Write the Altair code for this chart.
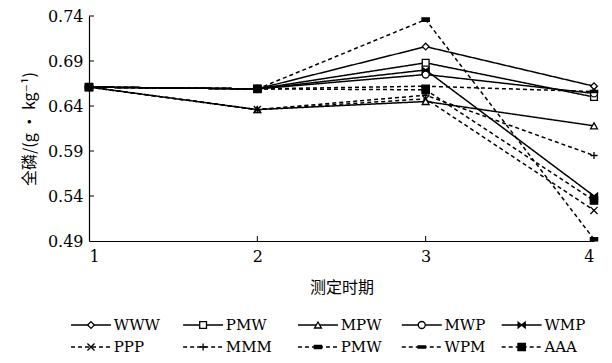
import altair as alt
import pandas as pd

periods = [1, 2, 3, 4]
series_ids = ["s1", "s2", "s3", "s4", "s5", "s6", "s7", "s8", "s9", "s10"]
series_labels = ["WWW", "PMW", "MPW", "MWP", "WMP", "PPP", "MMM", "PMW", "WPM", "AAA"]

v_www = [0.661, 0.659, 0.706, 0.662]
v_pmw = [0.661, 0.659, 0.688, 0.650]
v_mpw = [0.661, 0.636, 0.645, 0.618]
v_mwp = [0.661, 0.659, 0.675, 0.654]
v_wmp = [0.661, 0.659, 0.680, 0.540]
v_ppp = [0.661, 0.636, 0.648, 0.524]
v_mmm = [0.661, 0.636, 0.652, 0.585]
v_pmw2 = [0.661, 0.659, 0.736, 0.492]
v_wpm = [0.661, 0.659, 0.662, 0.656]
v_aaa = [0.661, 0.659, 0.658, 0.535]
all_values = [v_www, v_pmw, v_mpw, v_mwp, v_wmp, v_ppp, v_mmm, v_pmw2, v_wpm, v_aaa]

y_ticks = [0.49, 0.54, 0.59, 0.64, 0.69, 0.74]
inner_y_ticks = [0.54, 0.59, 0.64, 0.69, 0.74]
inner_x_ticks = [2, 3]

# legend grid: column slot and row of each entry
legend_cols = [0, 1, 2, 3, 4, 0, 1, 2, 3, 4]
legend_rows = [0, 0, 0, 0, 0, 1, 1, 1, 1, 1]
legend_slot_pos = [0.0, 1.01, 2.045, 2.98, 3.88]   # layout of the five legend columns

FONT = "DejaVu Serif, 'Noto Sans CJK SC'"
CJK = "'Noto Sans CJK SC', DejaVu Serif"

W, H = 505, 225

dashes = [[1, 0]] * 5 + [[4, 3]] * 5
shapes = [
    "diamond", "square", "triangle-up", "circle",
    "M-1,-0.8L1,0.8L1,-0.8L-1,0.8Z",
    "M-1,-1L1,1M1,-1L-1,1",
    "M-1,0L1,0M0,-1L0,1",
    "M-1,-0.45L1,-0.45L1,0.45L-1,0.45Z",
    "M-1,-0.3L1,-0.3L1,0.3L-1,0.3Z",
    "square",
]
fills = ["white", "white", "white", "white", "black", "black", "black", "black", "black", "black"]
sizes = [45, 55, 55, 55, 45, 55, 55, 40, 90, 130]

rows = []
for sid, lab, vals in zip(series_ids, series_labels, all_values):
    for p, v in zip(periods, vals):
        rows.append({"sid": sid, "label": lab, "period": p, "value": v})
df = pd.DataFrame(rows)

dash_scale = alt.Scale(domain=series_ids, range=dashes)
shape_scale = alt.Scale(domain=series_ids, range=shapes)
fill_scale = alt.Scale(domain=series_ids, range=fills)
size_scale = alt.Scale(domain=series_ids, range=sizes)

xs = alt.Scale(domain=[1, 4], nice=False, zero=False)
ys = alt.Scale(domain=[0.49, 0.74], nice=False, zero=False)

x_enc = alt.X("period:Q", scale=xs, axis=alt.Axis(
    values=periods, format="d", title="测定时期", grid=False, ticks=False,
    labelFont=FONT, labelFontSize=16, labelColor="black", labelPadding=7,
    titleFont=CJK, titleFontSize=16, titleFontWeight="normal", titleColor="black",
    titlePadding=15, domainColor="black", domainWidth=1.2))
y_enc = alt.Y("value:Q", scale=ys, axis=alt.Axis(
    values=y_ticks, format=".2f", title="全磷/(g • kg⁻¹)", grid=False, ticks=False,
    labelFont=FONT, labelFontSize=16, labelColor="black", labelPadding=6,
    titleFont=CJK, titleFontSize=16, titleFontWeight="normal", titleColor="black",
    titlePadding=10, domainColor="black", domainWidth=1.2))

lines = alt.Chart(df).mark_line(color="black", strokeWidth=1.5).encode(
    x=x_enc, y=y_enc, detail="sid:N",
    strokeDash=alt.StrokeDash("sid:N", scale=dash_scale, legend=None),
)
points = alt.Chart(df).mark_point(filled=True, stroke="black", strokeWidth=1.3, opacity=1).encode(
    x=alt.X("period:Q", scale=xs), y=alt.Y("value:Q", scale=ys),
    shape=alt.Shape("sid:N", scale=shape_scale, legend=None),
    fill=alt.Fill("sid:N", scale=fill_scale, legend=None),
    size=alt.Size("sid:N", scale=size_scale, legend=None),
)
ytick_df = pd.DataFrame({"v": inner_y_ticks})
ytick = alt.Chart(ytick_df).mark_rule(color="black", strokeWidth=1).encode(
    y=alt.Y("v:Q", scale=ys), x=alt.value(0), x2=alt.value(5))
xtick_df = pd.DataFrame({"p": inner_x_ticks})
xtick = alt.Chart(xtick_df).mark_rule(color="black", strokeWidth=1).encode(
    x=alt.X("p:Q", scale=xs), y=alt.value(H), y2=alt.value(H - 5))

main = alt.layer(lines, ytick, xtick, points)

# legend, drawn below the plot with its own position scales
leg = pd.DataFrame({"sid": series_ids, "label": series_labels,
                    "col": [legend_slot_pos[c] for c in legend_cols], "row": legend_rows})
leg["x0"] = leg["col"]
leg["x1"] = leg["col"] + 0.36
leg["xm"] = leg["col"] + 0.18
leg["xt"] = leg["col"] + 0.385
lxs = alt.Scale(domain=[0, 1], range=[-18, 93], nice=False, zero=False)
lys = alt.Scale(domain=[0, 1], range=[309, 331], nice=False, zero=False)

lrule = alt.Chart(leg).mark_rule(color="black", strokeWidth=1.5).encode(
    x=alt.X("x0:Q", scale=lxs, axis=None), x2="x1:Q",
    y=alt.Y("row:Q", scale=lys, axis=None),
    strokeDash=alt.StrokeDash("sid:N", scale=dash_scale, legend=None),
)
lpoint = alt.Chart(leg).mark_point(filled=True, stroke="black", strokeWidth=1.3, opacity=1).encode(
    x=alt.X("xm:Q", scale=lxs, axis=None), y=alt.Y("row:Q", scale=lys, axis=None),
    shape=alt.Shape("sid:N", scale=shape_scale, legend=None),
    fill=alt.Fill("sid:N", scale=fill_scale, legend=None),
    size=alt.Size("sid:N", scale=size_scale, legend=None),
)
ltext = alt.Chart(leg).mark_text(align="left", baseline="middle", font=FONT,
                                 fontSize=15, color="black").encode(
    x=alt.X("xt:Q", scale=lxs, axis=None), y=alt.Y("row:Q", scale=lys, axis=None),
    text="label:N",
)
legend_layer = alt.layer(lrule, lpoint, ltext)

chart = alt.layer(main, legend_layer).resolve_scale(
    x="independent", y="independent"
).properties(
    width=W, height=H,
    padding={"left": 13, "top": 0, "right": 0, "bottom": 0},
    background="white",
).configure_view(stroke=None)

chart.save("out.html", embed_options={"renderer": "svg", "actions": False})
